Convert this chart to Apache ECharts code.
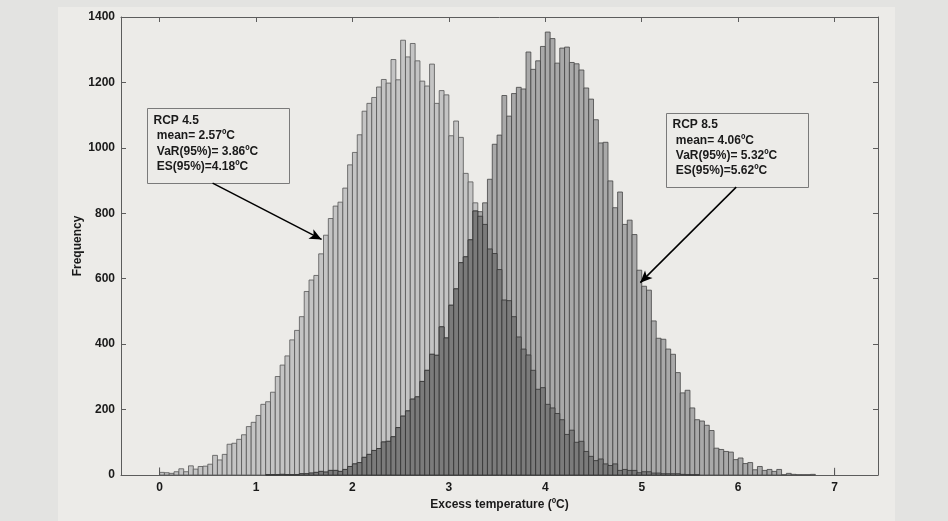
<!DOCTYPE html>
<html>
<head>
<meta charset="utf-8">
<script src="https://cdn.jsdelivr.net/npm/echarts@6/dist/echarts.min.js"></script>
<style>
    html, body { margin: 0; padding: 0; background: #e3e3e1; }
    #panel { position: absolute; left: 58px; top: 7px; width: 837px; height: 514px; background: #ecebe8; }
    #main { position: absolute; left: 0; top: 0; width: 948px; height: 521px; }
</style>
</head>
<body>
<div id="panel"></div>
<div id="main"></div>
<script>
// histogram bins, 0.05 ºC wide, first bin starts at 0
var binStart = 0;
var binWidth = 0.05;

// RCP 4.5 counts per bin
var rcp45 = [
    8, 7, 5, 10, 19, 10, 28, 18, 26, 27,
    33, 60, 46, 63, 94, 97, 109, 123, 148, 161,
    182, 216, 224, 253, 301, 336, 364, 413, 442, 484,
    561, 596, 610, 676, 733, 784, 822, 834, 877, 948,
    986, 1040, 1112, 1136, 1154, 1186, 1209, 1198, 1270, 1208,
    1329, 1278, 1319, 1266, 1204, 1189, 1256, 1136, 1175, 1162,
    1037, 1082, 1032, 922, 896, 832, 791, 766, 691, 677,
    628, 535, 533, 484, 422, 385, 367, 320, 262, 267,
    216, 205, 188, 169, 124, 137, 100, 103, 72, 57,
    44, 49, 34, 29, 34, 14, 17, 14, 14, 7,
    10, 10, 6, 6, 4, 4, 4, 4, 2, 1,
    1, 1
];

// RCP 8.5 counts per bin
var rcp85 = [
    0, 0, 0, 0, 0, 0, 0, 0, 0, 0,
    0, 0, 0, 0, 0, 0, 0, 0, 0, 0,
    0, 0, 1, 1, 1, 2, 1, 1, 1, 4,
    4, 6, 8, 11, 9, 14, 14, 11, 17, 26,
    34, 38, 54, 63, 75, 81, 101, 103, 117, 145,
    180, 196, 232, 239, 286, 320, 369, 366, 453, 419,
    519, 569, 649, 667, 719, 807, 805, 832, 904, 1011,
    1039, 1160, 1097, 1166, 1185, 1180, 1293, 1240, 1266, 1310,
    1354, 1334, 1259, 1305, 1308, 1261, 1257, 1238, 1183, 1149,
    1086, 1015, 1017, 899, 817, 865, 766, 779, 735, 626,
    577, 565, 471, 418, 415, 385, 369, 313, 251, 259,
    205, 169, 165, 152, 136, 82, 78, 72, 70, 47,
    52, 35, 38, 16, 26, 14, 17, 11, 17, 1,
    5, 2, 1, 1, 1, 2
];

// thin spikes at the ends of the range [x, count]
var rcp45Spike = [[0, 23]];
var rcp85Spike = [[7, 22]];

var xTicks = [0, 1, 2, 3, 4, 5, 6, 7];

var labelsRcp45 = ['RCP 4.5', ' mean= 2.57ºC', ' VaR(95%)= 3.86ºC', ' ES(95%)=4.18ºC'];
var labelsRcp85 = ['RCP 8.5', ' mean= 4.06ºC', ' VaR(95%)= 5.32ºC', ' ES(95%)=5.62ºC'];

function toBins(arr) {
    return arr.map(function (v, i) {
        return [binStart + i * binWidth, v];
    });
}

// part where the two histograms overlap
var overlap = [];
for (var i = 0; i < Math.max(rcp45.length, rcp85.length); i++) {
    overlap.push(Math.min(rcp45[i] || 0, rcp85[i] || 0));
}

function barRenderer(fill, stroke) {
    return function (params, api) {
        var v = api.value(1);
        if (!v) return null;
        var x0 = api.value(0);
        var tl = api.coord([x0, v]);
        var br = api.coord([x0 + binWidth, 0]);
        return {
            type: 'rect',
            shape: {x: tl[0], y: tl[1], width: br[0] - tl[0], height: br[1] - tl[1]},
            style: {fill: fill, stroke: stroke, lineWidth: 0.8}
        };
    };
}

function spikeRenderer(params, api) {
    var top = api.coord([api.value(0), api.value(1)]);
    var bottom = api.coord([api.value(0), 0]);
    return {
        type: 'line',
        shape: {x1: top[0], y1: top[1], x2: bottom[0], y2: bottom[1]},
        style: {stroke: '#555', lineWidth: 1}
    };
}

var axisColor = '#5c5c5c';
var textColor = '#1a1a1a';
var font = 'Liberation Sans';

function makeXAxis(pos, withLabels) {
    var ax = {
        type: 'value',
        position: pos,
        min: -0.4,
        max: 7.45,
        axisLine: {onZero: false, lineStyle: {color: axisColor, width: 1}},
        axisTick: {inside: true, length: 5, customValues: xTicks, lineStyle: {color: axisColor}},
        axisLabel: {show: withLabels, customValues: xTicks, color: textColor, fontFamily: font, fontWeight: 'bold', fontSize: 12, margin: 7},
        splitLine: {show: false}
    };
    if (withLabels) {
        ax.name = 'Excess temperature (ºC)';
        ax.nameLocation = 'middle';
        ax.nameGap = 22;
        ax.nameTextStyle = {color: textColor, fontFamily: font, fontWeight: 'bold', fontSize: 12, verticalAlign: 'top'};
    }
    return ax;
}

function makeYAxis(pos, withLabels) {
    var ax = {
        type: 'value',
        position: pos,
        min: 0,
        max: 1400,
        interval: 200,
        axisLine: {show: true, onZero: false, lineStyle: {color: axisColor, width: 1}},
        axisTick: {show: true, inside: true, length: 5, lineStyle: {color: axisColor}},
        axisLabel: {
            show: withLabels, color: textColor, fontFamily: font, fontWeight: 'bold', fontSize: 12, margin: 6,
            formatter: function (v) { return String(v); }
        },
        splitLine: {show: false}
    };
    if (withLabels) {
        ax.name = 'Frequency';
        ax.nameLocation = 'middle';
        ax.nameGap = 37;
        ax.nameMoveOverlap = false;
        ax.nameTextStyle = {color: textColor, fontFamily: font, fontWeight: 'bold', fontSize: 12};
    }
    return ax;
}

var myChart = echarts.init(document.getElementById('main'));

var option = {
    animation: false,
    backgroundColor: 'transparent',
    grid: {left: 121, right: 70, top: 17, bottom: 46},
    xAxis: [makeXAxis('bottom', true), makeXAxis('top', false)],
    yAxis: [makeYAxis('left', true), makeYAxis('right', false)],
    series: [
        {
            name: 'RCP 4.5',
            type: 'custom',
            renderItem: barRenderer('#c4c4c4', '#555'),
            encode: {x: 0, y: 1},
            data: toBins(rcp45),
            z: 2
        },
        {
            name: 'RCP 8.5',
            type: 'custom',
            renderItem: barRenderer('#a9a9a9', '#444'),
            encode: {x: 0, y: 1},
            data: toBins(rcp85),
            z: 3
        },
        {
            name: 'Overlap',
            type: 'custom',
            renderItem: barRenderer('#7b7b7b', '#333'),
            encode: {x: 0, y: 1},
            data: toBins(overlap),
            z: 4
        },
        {
            name: 'Spikes',
            type: 'custom',
            renderItem: spikeRenderer,
            encode: {x: 0, y: 1},
            data: rcp45Spike.concat(rcp85Spike),
            z: 5
        },
        {
            // arrows pointing from the boxes to the histograms
            type: 'line',
            data: [],
            z: 6,
            markLine: {
                silent: true,
                symbol: ['none', 'arrow'],
                symbolSize: [8, 12],
                label: {show: false},
                lineStyle: {color: '#000', width: 1.5, type: 'solid'},
                data: [
                    [{coord: [0.55, 892]}, {coord: [1.68, 720]}],
                    [{coord: [5.98, 880]}, {coord: [4.985, 588]}]
                ]
            }
        }
    ],
    graphic: [
        {
            type: 'group',
            left: 147,
            top: 108,
            z: 100,
            children: [
                {type: 'rect', shape: {x: 0, y: 0, width: 142, height: 75}, style: {fill: '#ecebe8', stroke: '#7a7a7a', lineWidth: 1}},
                {type: 'text', x: 6, y: 4, style: {text: labelsRcp45.join('\n'), fill: textColor, font: 'bold 12px "Liberation Sans"', lineHeight: 15.5}}
            ]
        },
        {
            type: 'group',
            left: 666,
            top: 113,
            z: 100,
            children: [
                {type: 'rect', shape: {x: 0, y: 0, width: 142, height: 74}, style: {fill: '#ecebe8', stroke: '#7a7a7a', lineWidth: 1}},
                {type: 'text', x: 6, y: 4, style: {text: labelsRcp85.join('\n'), fill: textColor, font: 'bold 12px "Liberation Sans"', lineHeight: 15.2}}
            ]
        }
    ]
};

myChart.setOption(option);
</script>
</body>
</html>
